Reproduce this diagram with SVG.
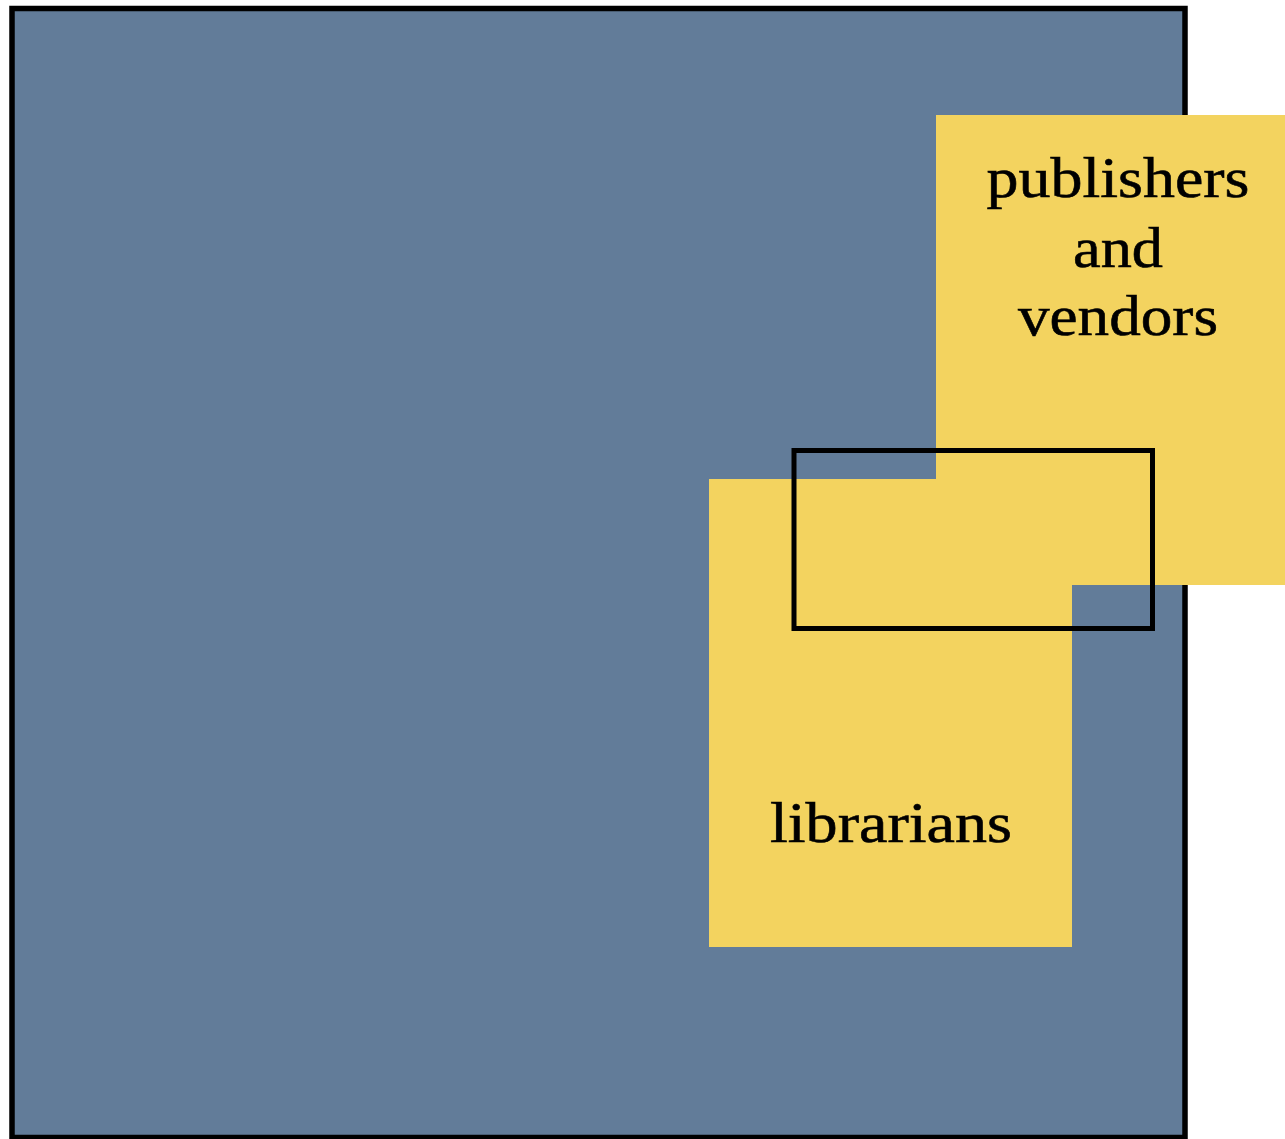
<svg xmlns="http://www.w3.org/2000/svg" width="1285" height="1139" viewBox="0 0 1285 1139">
<style>
.lbl{font-family:"Liberation Serif","DejaVu Serif",serif;font-size:58px;fill:#000;stroke:#000;stroke-width:0.6;text-anchor:middle}
.card{fill:#f3d35f}
.frame{fill:none;stroke:#000;stroke-width:5}
</style>
<rect width="1285" height="1139" fill="#fff"/>
<g id="background">
<rect x="12" y="8.5" width="1173" height="1129" fill="#627c99" stroke="#000" stroke-width="5.5"/>
</g>
<g id="librarians">
<rect class="card" x="709" y="479" width="363" height="468"/>
<text class="lbl" x="891" y="842" textLength="242" lengthAdjust="spacingAndGlyphs">librarians</text>
</g>
<g id="publishers">
<rect class="card" x="936" y="115" width="349" height="470"/>
<text class="lbl" x="1118" y="197" textLength="263" lengthAdjust="spacingAndGlyphs">publishers</text>
<text class="lbl" x="1118" y="267" textLength="90" lengthAdjust="spacingAndGlyphs">and</text>
<text class="lbl" x="1118" y="335" textLength="200" lengthAdjust="spacingAndGlyphs">vendors</text>
</g>
<g id="overlap">
<rect class="frame" x="794" y="450.5" width="358.5" height="178"/>
</g>
<g id="connectors"/>
</svg>
